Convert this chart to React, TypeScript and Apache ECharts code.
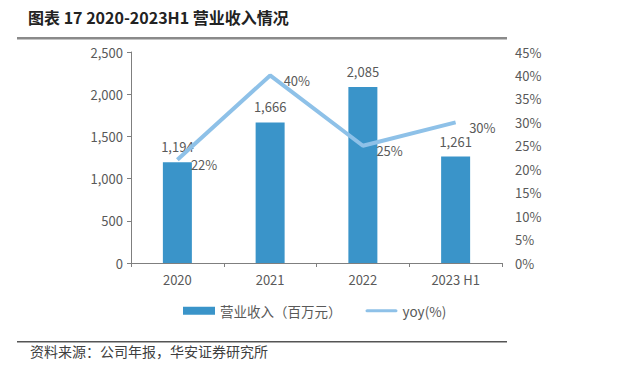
import React, { useEffect, useRef } from "react";
import * as echarts from "echarts";

const categories = ["2020", "2021", "2022", "2023 H1"];
const revenue = [1194, 1666, 2085, 1261];
const yoy = [22, 40, 25, 30];
const leftTicks = { min: 0, max: 2500, interval: 500 };
const rightTicks = { min: 0, max: 45, interval: 5 };

const titleText = "图表 17 2020-2023H1 营业收入情况";
const sourceText = "资料来源：公司年报，华安证券研究所";
const barName = "营业收入（百万元）";
const lineName = "yoy(%)";

const FONT = "'Noto Sans CJK SC', 'Noto Sans', sans-serif";
const LABEL = "#595959";

export default function App() {
  const ref = useRef<HTMLDivElement>(null);
  useEffect(() => {
    if (!ref.current) return;
    const chart = echarts.init(ref.current, undefined, { renderer: "svg" });
    const fmt = (v: number) => v.toLocaleString("en-US");
    chart.setOption({
      animation: false,
      textStyle: { fontFamily: FONT },
      grid: { left: 131, right: 117, top: 52, bottom: 107, containLabel: false },
      graphic: [
        {
          type: "text",
          left: 28,
          top: 9,
          style: { text: titleText, font: `bold 16px ${FONT}`, fill: "#222" },
        },
        {
          type: "rect",
          shape: { x: 17, y: 37, width: 490, height: 2.5 },
          style: { fill: "#8a8a8a" },
        },
        {
          type: "rect",
          shape: { x: 17, y: 341, width: 490, height: 1.5 },
          style: { fill: "#555" },
        },
        {
          type: "text",
          left: 30,
          top: 344,
          style: { text: sourceText, font: `14px ${FONT}`, fill: "#404040" },
        },
      ],
      legend: {
        top: 299,
        left: 178,
        itemGap: 24,
        itemWidth: 32,
        itemHeight: 8,
        textStyle: { color: LABEL, fontSize: 13.5, fontFamily: FONT },
        data: [
          { name: barName, icon: "rect" },
          {
            name: lineName,
            icon: "path://M2,0 H38 A2,2 0 0 1 38,4 H2 A2,2 0 0 1 2,0 Z",
            itemStyle: { color: "#8ec1e8", opacity: 1 },
          },
        ],
      },
      xAxis: {
        type: "category",
        data: categories,
        axisLine: { lineStyle: { color: "#7f7f7f" } },
        axisTick: { show: true, alignWithLabel: false, length: 4, lineStyle: { color: "#7f7f7f" } },
        axisLabel: { color: LABEL, fontSize: 13, margin: 10 },
      },
      yAxis: [
        {
          type: "value",
          ...leftTicks,
          axisLine: { show: true, lineStyle: { color: "#7f7f7f" } },
          axisTick: { show: true, length: 4, lineStyle: { color: "#7f7f7f" } },
          splitLine: { show: false },
          axisLabel: { color: LABEL, fontSize: 13, margin: 8, formatter: (v: number) => fmt(v) },
        },
        {
          type: "value",
          ...rightTicks,
          position: "right",
          axisLine: { show: false },
          axisTick: { show: false },
          splitLine: { show: false },
          axisLabel: { color: LABEL, fontSize: 13, margin: 13, formatter: "{value}%" },
        },
      ],
      series: [
        {
          name: barName,
          type: "bar",
          data: revenue,
          barWidth: 29,
          itemStyle: { color: "#3a94c9" },
          label: {
            show: true,
            position: "top",
            distance: 9,
            color: LABEL,
            fontSize: 13,
            formatter: (p: any) => fmt(p.value),
          },
        },
        {
          name: lineName,
          type: "line",
          yAxisIndex: 1,
          data: yoy,
          symbol: "circle",
          symbolSize: 1,
          showSymbol: true,
          lineStyle: { color: "#8ec1e8", width: 4 },
          itemStyle: { color: "#8ec1e8", opacity: 0 },
          label: {
            show: true,
            position: "right",
            distance: 13,
            offset: [0, 5],
            color: LABEL,
            fontSize: 13,
            opacity: 1,
            formatter: "{c}%",
          },
        },
      ],
    });
    return () => chart.dispose();
  }, []);
  return (
    <div
      ref={ref}
      style={{ position: "fixed", left: 0, top: 0, width: 619, height: 370, background: "#fff" }}
    />
  );
}
